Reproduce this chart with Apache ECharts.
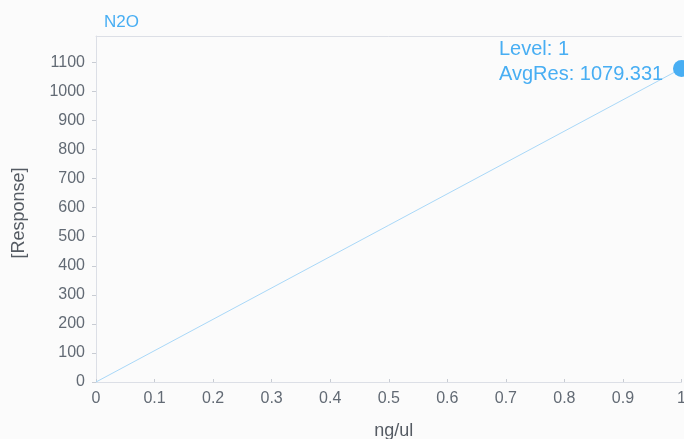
<!DOCTYPE html>
<html>
<head>
<meta charset="utf-8">
<script src="https://cdn.jsdelivr.net/npm/echarts@6/dist/echarts.min.js"></script>
<style>
  html, body { margin: 0; padding: 0; background: #fbfbfb; overflow: hidden; }
  #chart { width: 684px; height: 439px; }
</style>
</head>
<body>
<div id="chart"></div>
<script>
// Calibration curve for N2O: concentration (ng/ul) vs averaged response
const compound = 'N2O';
const levels = [1];
const concentrations = [0, 1];
const responses = [0, 1079.331];

const xTicks = [0, 0.1, 0.2, 0.3, 0.4, 0.5, 0.6, 0.7, 0.8, 0.9, 1];
const yMax = 1191;

const chart = echarts.init(document.getElementById('chart'), null, { renderer: 'canvas' });

const font = 'Liberation Sans, Arial, Helvetica, sans-serif';
const axisGray = '#dcdfe6';
const labelGray = '#626a74';
const accent = '#48aef3';

const points = concentrations.map((c, i) => ({
  value: [c, responses[i]],
  symbolSize: i === 0 ? 0 : 17,
  label: i === 0 ? { show: false } : {
    show: true,
    position: [-174, -23],
    formatter: 'Level: ' + levels[i - 1] + '\nAvgRes: ' + responses[i],
    color: accent,
    fontFamily: font,
    fontSize: 20,
    lineHeight: 25,
    align: 'left',
    verticalAlign: 'top'
  }
}));

chart.setOption({
  backgroundColor: '#fbfbfb',
  animation: false,
  title: {
    text: compound,
    left: 99,
    top: 9,
    textStyle: { color: accent, fontFamily: font, fontSize: 17, fontWeight: 'normal' }
  },
  grid: {
    left: 96, right: 2.5, top: 36, bottom: 57,
    containLabel: false,
    outerBoundsMode: 'none'
  },
  xAxis: [{
    type: 'value',
    min: 0,
    max: 1,
    interval: 0.1,
    name: 'ng/ul',
    nameLocation: 'middle',
    nameGap: 40,
    nameTextStyle: { color: '#555b63', fontFamily: font, fontSize: 18, padding: [0, 0, 0, 10] },
    axisLine: { show: true, lineStyle: { color: axisGray, width: 1 } },
    axisTick: { show: true, inside: true, length: 3, lineStyle: { color: '#c8ccd3' } },
    splitLine: { show: false },
    axisLabel: {
      color: labelGray, fontFamily: font, fontSize: 16, margin: 9,
      hideOverlap: false,
      formatter: v => String(+v.toFixed(1))
    }
  }, {
    type: 'value',
    position: 'top',
    min: 0,
    max: 1,
    axisLine: { show: true, lineStyle: { color: axisGray, width: 1 } },
    axisTick: { show: false },
    axisLabel: { show: false },
    splitLine: { show: false }
  }],
  yAxis: {
    type: 'value',
    min: 0,
    max: yMax,
    interval: 100,
    name: '[Response]',
    nameLocation: 'middle',
    nameGap: 68,
    nameRotate: 90,
    nameTextStyle: { color: '#555b63', fontFamily: font, fontSize: 18, padding: [0, 8, 0, 0] },
    axisLine: { show: true, lineStyle: { color: axisGray, width: 1 } },
    axisTick: { show: true, length: 4, lineStyle: { color: '#c8ccd3' } },
    splitLine: { show: false },
    axisLabel: {
      color: labelGray, fontFamily: font, fontSize: 16, margin: 11,
      showMaxLabel: false,
      formatter: v => String(Math.round(v))
    }
  },
  series: [{
    type: 'line',
    data: points,
    symbol: 'circle',
    showAllSymbol: true,
    clip: false,
    lineStyle: { color: '#a9d8f8', width: 1 },
    itemStyle: { color: accent },
    emphasis: { disabled: true }
  }]
});
</script>
</body>
</html>
